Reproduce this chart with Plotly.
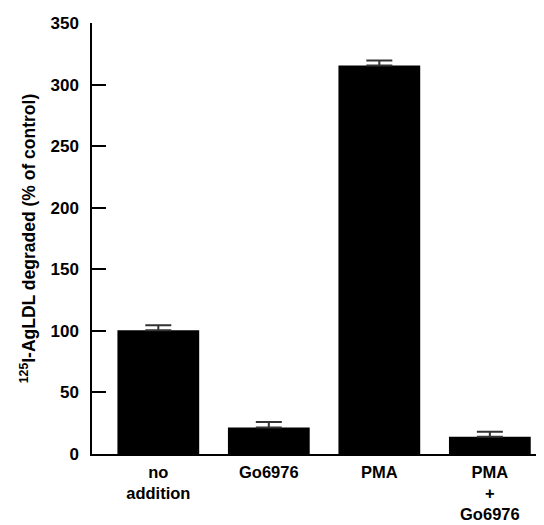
import plotly.graph_objects as go

categories = ["no<br>addition", "Go6976", "PMA", "PMA<br>+<br>Go6976"]
values = [100.5, 21.5, 315.5, 14.0]
errors = [4.0, 4.5, 4.0, 4.0]
y_ticks = [0, 50, 100, 150, 200, 250, 300, 350]

fig = go.Figure()
fig.add_trace(go.Bar(
    x=categories,
    y=values,
    marker=dict(color="black", line=dict(width=0)),
    error_y=dict(type="data", array=errors, symmetric=False, arrayminus=[0]*4,
                 color="#333333", thickness=2, width=13, visible=True),
    width=0.74,
))

font_family = "Liberation Sans, Arial, Helvetica, sans-serif"
# page body has an 8px margin, so figure is sized/offset to compensate
fig.update_layout(
    width=536, height=517,
    margin=dict(l=84, r=0, t=15, b=71),
    plot_bgcolor="white", paper_bgcolor="white",
    showlegend=False,
    font=dict(family=font_family, size=16, color="black", weight="bold"),
)
fig.update_xaxes(
    type="category",
    range=[-0.6, 3.49],
    automargin=False,
    showline=True, linecolor="black", linewidth=1.5,
    ticks="", showgrid=False, zeroline=False,
    ticklabelstandoff=2,
    tickfont=dict(family=font_family, size=16.5, color="black", weight="bold"),
)
fig.update_yaxes(
    range=[0, 350],
    automargin=False,
    tickvals=y_ticks,
    showline=True, linecolor="black", linewidth=1.5,
    ticks="inside", ticklen=14, tickwidth=1.5, tickcolor="black",
    ticklabelstandoff=8,
    showgrid=False, zeroline=False,
    tickfont=dict(family=font_family, size=17, color="black", weight="bold"),
    title=dict(text="<sup>125</sup>I-AgLDL degraded (% of control)",
               font=dict(family=font_family, size=17.5, color="black", weight="bold"),
               standoff=10),
)
fig.write_html("out.html")
